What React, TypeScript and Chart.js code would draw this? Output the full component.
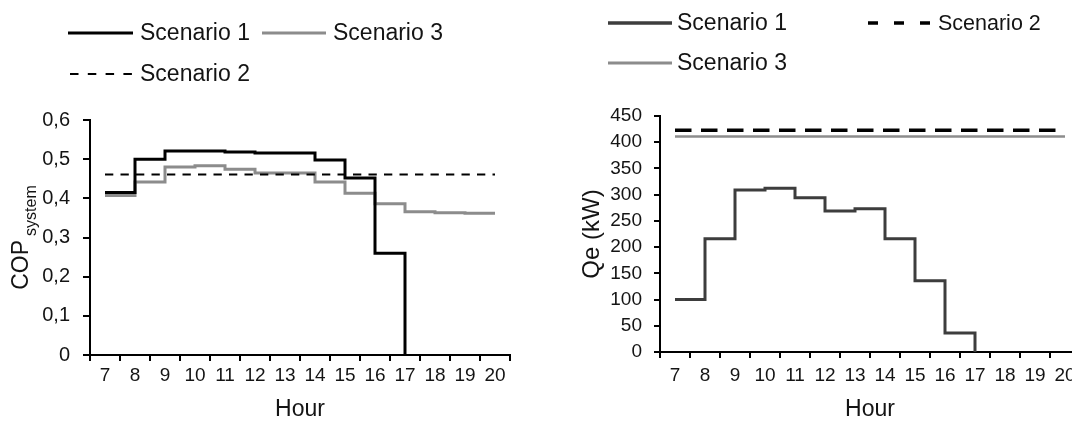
import React, { useEffect, useRef } from 'react';
import { Chart, registerables } from 'chart.js';

Chart.register(...registerables);

const FONT = "'Liberation Sans', Arial, Helvetica, sans-serif";
Chart.defaults.font.family = FONT;

// ---- data ----
const hours = ['7', '8', '9', '10', '11', '12', '13', '14', '15', '16', '17', '18', '19', '20'];

const copScenario1 = [0.415, 0.5, 0.521, 0.521, 0.518, 0.516, 0.516, 0.498, 0.452, 0.26, 0, null, null, null];
const copScenario2 = [0.461, 0.461, 0.461, 0.461, 0.461, 0.461, 0.461, 0.461, 0.461, 0.461, 0.461, 0.461, 0.461, 0.461];
const copScenario3 = [0.407, 0.442, 0.48, 0.483, 0.474, 0.465, 0.465, 0.442, 0.413, 0.386, 0.366, 0.363, 0.362, 0.362];

const qeScenario1 = [100, 216, 309, 312, 294, 269, 273, 216, 136, 36, 0, null, null, null];
const qeScenario2 = [423, 423, 423, 423, 423, 423, 423, 423, 423, 423, 423, 423, 423, 423];
const qeScenario3 = [411, 411, 411, 411, 411, 411, 411, 411, 411, 411, 411, 411, 411, 411];

const copTickMax = 0.6;
const copTickStep = 0.1;
const qeTickMax = 450;
const qeTickStep = 50;

const TEXT = '#141414';

type LegendItem = {
  ds: number;
  x: number;
  y: number;
  w: number;
  gap: number;
  size: number;
  lineWidth?: number;
  dash?: number[];
};

function makeLegendPlugin(items: LegendItem[]) {
  return {
    id: 'manualLegend',
    afterDraw(chart: any) {
      const ctx: CanvasRenderingContext2D = chart.ctx;
      for (const it of items) {
        const ds = chart.data.datasets[it.ds];
        ctx.save();
        ctx.strokeStyle = ds.borderColor;
        ctx.lineWidth = it.lineWidth ?? ds.borderWidth;
        ctx.lineCap = 'butt';
        ctx.setLineDash(it.dash ?? []);
        ctx.beginPath();
        ctx.moveTo(it.x, it.y);
        ctx.lineTo(it.x + it.w, it.y);
        ctx.stroke();
        ctx.setLineDash([]);
        ctx.fillStyle = TEXT;
        ctx.font = `${it.size}px ${FONT}`;
        ctx.textAlign = 'left';
        ctx.textBaseline = 'middle';
        ctx.fillText(ds.label, it.x + it.w + it.gap, it.y + 1);
        ctx.restore();
      }
    },
  };
}

const copTitlePlugin = {
  id: 'copTitle',
  afterDraw(chart: any) {
    const { ctx, chartArea } = chart;
    const cy = (chartArea.top + chartArea.bottom) / 2;
    ctx.save();
    ctx.translate(22, cy);
    ctx.rotate(-Math.PI / 2);
    ctx.fillStyle = TEXT;
    ctx.textBaseline = 'middle';
    ctx.textAlign = 'left';
    ctx.font = `23px ${FONT}`;
    const w1 = ctx.measureText('COP').width;
    ctx.font = `16px ${FONT}`;
    const w2 = ctx.measureText('system').width;
    const gap = 4;
    const start = -(w1 + gap + w2) / 2;
    ctx.font = `23px ${FONT}`;
    ctx.fillText('COP', start, 0);
    ctx.font = `16px ${FONT}`;
    ctx.fillText('system', start + w1 + gap, 10);
    ctx.restore();
  },
};

function baseX(height: number, pad: number) {
  return {
    type: 'category' as const,
    offset: true,
    grid: {
      display: true,
      offset: true,
      drawOnChartArea: false,
      drawTicks: true,
      tickLength: 6,
      color: '#000',
      lineWidth: 2,
    },
    border: { display: true, color: '#000', width: 2 },
    ticks: {
      font: { size: 19, family: FONT },
      color: TEXT,
      padding: pad,
      maxRotation: 0,
      autoSkip: false,
    },
    title: {
      display: true,
      text: 'Hour',
      font: { size: 23, family: FONT, lineHeight: 1 },
      color: TEXT,
      padding: { top: 0, bottom: 0 },
    },
    afterFit: (s: any) => {
      s.height = height;
    },
  };
}

export default function App() {
  const leftRef = useRef<HTMLCanvasElement>(null);
  const rightRef = useRef<HTMLCanvasElement>(null);

  useEffect(() => {
    const left = new Chart(leftRef.current as HTMLCanvasElement, {
      type: 'line',
      data: {
        labels: hours,
        datasets: [
          { label: 'Scenario 1', data: copScenario1, borderColor: '#000000', borderWidth: 3, stepped: true, pointRadius: 0, fill: false },
          { label: 'Scenario 2', data: copScenario2, borderColor: '#000000', borderWidth: 2, borderDash: [8.3, 7.2], pointRadius: 0, fill: false },
          { label: 'Scenario 3', data: copScenario3, borderColor: '#8c8c8c', borderWidth: 3, stepped: true, pointRadius: 0, fill: false },
        ],
      },
      options: {
        responsive: false,
        animation: false,
        devicePixelRatio: 1,
        layout: { padding: { left: 0, right: 26, top: 120, bottom: 0 } },
        elements: { line: { tension: 0, borderJoinStyle: 'miter', borderCapStyle: 'butt' } },
        plugins: { legend: { display: false }, tooltip: { enabled: false } },
        scales: {
          x: baseX(66, 3) as any,
          y: {
            min: 0,
            max: copTickMax,
            ticks: {
              stepSize: copTickStep,
              font: { size: 20, family: FONT },
              color: TEXT,
              padding: 13,
              callback: (v: any) => (Number(v) === 0 ? '0' : Number(v).toFixed(1).replace('.', ',')),
            },
            grid: { drawOnChartArea: false, drawTicks: true, tickLength: 7, color: '#000', lineWidth: 2 },
            border: { display: true, color: '#000', width: 2 },
            afterFit: (s: any) => {
              s.width = 90;
            },
          } as any,
        },
      },
      plugins: [
        copTitlePlugin,
        makeLegendPlugin([
          { ds: 0, x: 68, y: 33, w: 65, gap: 7, size: 23 },
          { ds: 2, x: 262, y: 33, w: 64, gap: 7, size: 23 },
          { ds: 1, x: 70, y: 74, w: 62, gap: 8, size: 23, lineWidth: 2, dash: [8.5, 9.3] },
        ]),
      ],
    } as any);

    const right = new Chart(rightRef.current as HTMLCanvasElement, {
      type: 'line',
      data: {
        labels: hours,
        datasets: [
          { label: 'Scenario 1', data: qeScenario1, borderColor: '#3d3d3d', borderWidth: 3, stepped: true, pointRadius: 0, fill: false },
          { label: 'Scenario 2', data: qeScenario2, borderColor: '#000000', borderWidth: 3.5, borderDash: [16.5, 9.5], pointRadius: 0, fill: false },
          { label: 'Scenario 3', data: qeScenario3, borderColor: '#8c8c8c', borderWidth: 2.5, pointRadius: 0, fill: false },
        ],
      },
      options: {
        responsive: false,
        animation: false,
        devicePixelRatio: 1,
        layout: { padding: { left: 0, right: 16, top: 116, bottom: 0 } },
        elements: { line: { tension: 0, borderJoinStyle: 'miter', borderCapStyle: 'butt' } },
        plugins: { legend: { display: false }, tooltip: { enabled: false } },
        scales: {
          x: baseX(69, 6) as any,
          y: {
            min: 0,
            max: qeTickMax,
            ticks: {
              stepSize: qeTickStep,
              font: { size: 19, family: FONT },
              color: TEXT,
              padding: 12,
            },
            grid: { drawOnChartArea: false, drawTicks: true, tickLength: 6, color: '#000', lineWidth: 2 },
            border: { display: true, color: '#000', width: 2 },
            title: {
              display: true,
              text: 'Qe (kW)',
              font: { size: 24, family: FONT, lineHeight: 1 },
              color: TEXT,
              padding: { top: 44, bottom: 0 },
            },
            afterFit: (s: any) => {
              s.width = 124;
            },
          } as any,
        },
      },
      plugins: [
        makeLegendPlugin([
          { ds: 0, x: 72, y: 23, w: 64, gap: 5, size: 23, lineWidth: 3.5 },
          { ds: 1, x: 332, y: 23, w: 62, gap: 8, size: 21.5, lineWidth: 3.5, dash: [10, 16] },
          { ds: 2, x: 72, y: 63, w: 64, gap: 5, size: 23, lineWidth: 3 },
        ]),
      ],
    } as any);

    return () => {
      left.destroy();
      right.destroy();
    };
  }, []);

  return (
    <div
      style={{
        position: 'absolute',
        left: 0,
        top: 0,
        width: 1072,
        height: 421,
        overflow: 'hidden',
        background: '#ffffff',
      }}
    >
      <div style={{ position: 'absolute', left: 0, top: 0, width: 536, height: 421 }}>
        <canvas ref={leftRef} width={536} height={421} style={{ display: 'block', width: 536, height: 421 }} />
      </div>
      <div style={{ position: 'absolute', left: 536, top: 0, width: 560, height: 421 }}>
        <canvas ref={rightRef} width={560} height={421} style={{ display: 'block', width: 560, height: 421 }} />
      </div>
    </div>
  );
}
